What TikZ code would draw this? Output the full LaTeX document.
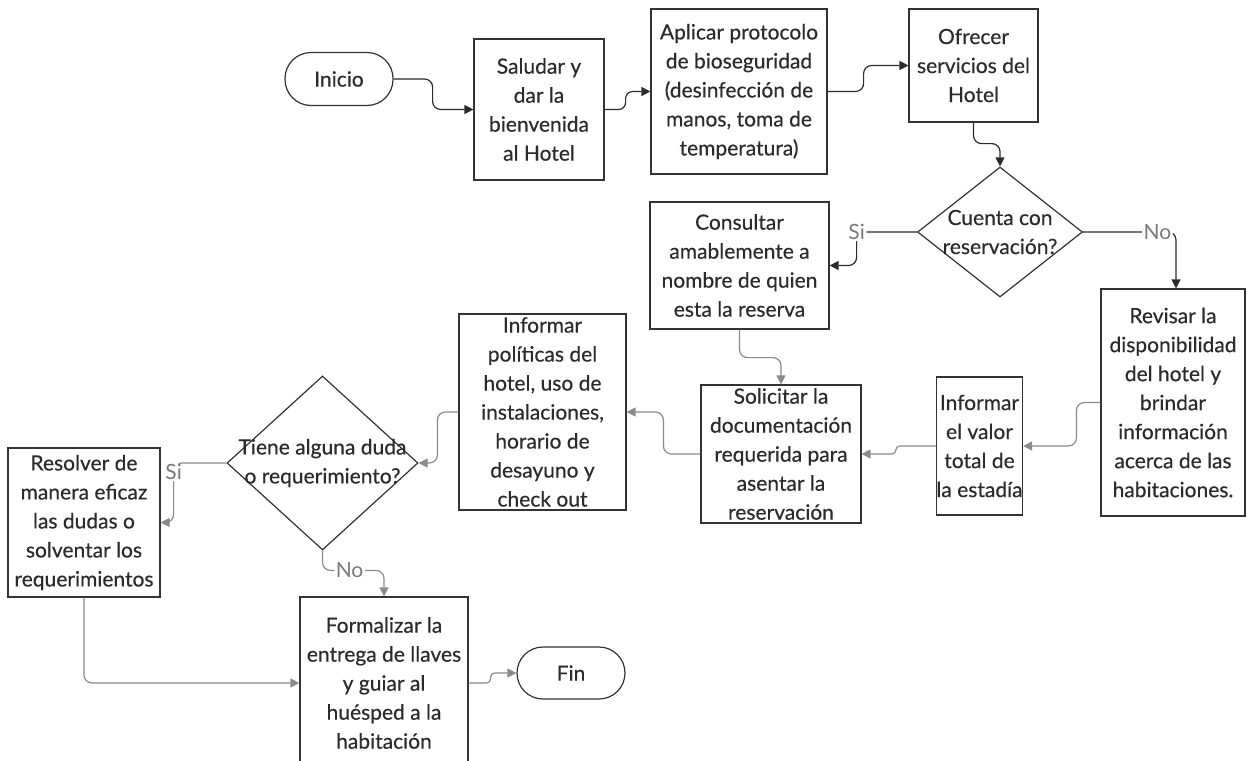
\documentclass[tikz,border=0pt]{standalone}
\usepackage{fontspec}
\setmainfont{Lato}
\newfontfamily\flowfont{Lato}[FakeBold=0.35]
\usetikzlibrary{arrows.meta,shapes.geometric,calc}
\definecolor{ink}{HTML}{2B2B2B}
\definecolor{edge}{HTML}{333333}
\definecolor{flowgray}{HTML}{8A8A8A}
\definecolor{lblgray}{HTML}{7A7A7A}
\tikzset{
  txt/.style={font=\flowfont\fontsize{21}{29}\selectfont, text=ink, align=center, inner sep=0pt},
  procbox/.style={txt, draw=edge, line width=1.2pt, rectangle},
  termbox/.style={txt, draw=edge, line width=1.2pt, rectangle, rounded corners=26pt},
  decbox/.style={draw=edge, line width=1.2pt, diamond, inner sep=0pt},
  darkflow/.style={draw=ink, line width=1.2pt, rounded corners=8pt,
    -{Triangle[length=9pt,width=9pt]}},
  grayflow/.style={draw=flowgray, line width=1.2pt, rounded corners=8pt,
    -{Triangle[length=9pt,width=9pt]}},
  lbl/.style={font=\fontsize{21}{24}\selectfont, text=lblgray, fill=white, inner sep=1.5pt}
}
\begin{document}
\begin{tikzpicture}[x=1pt,y=-1pt]
\useasboundingbox (0,0) rectangle (1252,760);
\clip (0,0) rectangle (1252,760);
\fill[white] (0,0) rectangle (1252,760);

% top row
\node[termbox, minimum width=108pt, minimum height=53pt] (ini) at (339,79) {Inicio};
\node[procbox, minimum width=130pt, minimum height=141pt] (sal) at (539,109.5)
  {Saludar y\\dar la\\bienvenida\\al Hotel};
\node[procbox, minimum width=176pt, minimum height=165pt] (apl) at (739,91.5)
  {Aplicar protocolo\\de bioseguridad\\(desinfección de\\manos, toma de\\temperatura)};
\node[procbox, minimum width=129pt, minimum height=113pt] (ofr) at (973.5,65.5)
  {Ofrecer\\servicios del\\Hotel};

% first decision
\node[decbox, minimum width=165pt, minimum height=130pt] (d1) at (1000,232) {};
\node[txt] at (d1) {Cuenta con\\reservación?};

\node[procbox, minimum width=179pt, minimum height=127pt] (cons) at (739.5,265.5)
  {Consultar\\amablemente a\\nombre de quien\\esta la reserva};
\node[procbox, minimum width=144pt, minimum height=227pt] (rev) at (1173,402.5)
  {Revisar la\\disponibilidad\\del hotel y\\brindar\\información\\acerca de las\\habitaciones.};
\node[procbox, minimum width=84pt, minimum height=138pt] (inf) at (979.5,446)
  {Informar\\el valor\\total de\\la estadía};
\node[procbox, minimum width=160pt, minimum height=138pt] (sol) at (781,454)
  {Solicitar la\\documentación\\requerida para\\asentar la\\reservación};
\node[procbox, minimum width=167pt, minimum height=196pt] (pol) at (542.5,412)
  {Informar\\políticas del\\hotel, uso de\\instalaciones,\\horario de\\desayuno y\\check out};

% second decision
\node[decbox, minimum width=191pt, minimum height=174pt] (d2) at (322.5,463) {};
\node[txt] at (d2) {Tiene alguna duda\\o requerimiento?};

\node[procbox, minimum width=152pt, minimum height=149pt] (res) at (84,522.5)
  {Resolver de\\manera eficaz\\las dudas o\\solventar los\\requerimientos};
\node[procbox, minimum width=168pt, minimum height=172pt] (form) at (384,683)
  {Formalizar la\\entrega de llaves\\y guiar al\\huésped a la\\habitación};
\node[termbox, minimum width=108pt, minimum height=52pt] (fin) at (571,673) {Fin};

% connectors, upper part
\draw[darkflow] (ini.east) -- ++(39,0) |- (sal.west);
\draw[darkflow, rounded corners=7pt] (sal.east) -- ++(21,0) |- (apl.west);
\draw[darkflow] (apl.east) -- ++(36,0) |- (ofr.west);
\draw[darkflow] (ofr.south) -- ++(0,21) -| (d1.north);
\draw[darkflow] (d1.west) -| node[lbl, pos=0.5] {Si} ($(cons.east)+(27,0)$) -- (cons.east);
\draw[darkflow] (d1.east) -| node[lbl, pos=0.4] {No} ($(rev.north)+(3,0)$);

% connectors, lower part
\draw[grayflow] (cons.south) -- ++(0,28) -| (sol.north);
\draw[grayflow] (rev.west) -- ++(-24,0) |- (inf.east);
\draw[grayflow, rounded corners=4pt] (inf.west) -- ++(-40,0) |- (sol.east);
\draw[grayflow] (sol.west) -- ++(-37,0) |- (pol.east);
\draw[grayflow] (pol.west) -- ++(-21,0) |- (d2.east);
\draw[grayflow] (d2.west) -| node[lbl, pos=0.5, yshift=-9pt] {Si} ($(res.east)+(13,0)$) -- (res.east);
\draw[grayflow] (d2.south) |- node[lbl, pos=0.72] {No} ($(form.north)+(0,-26)$) -- (form.north);
\draw[grayflow] (res.south) |- (form.west);
\draw[grayflow, rounded corners=4pt] (form.east) -- ++(22,0) |- (fin.west);
\end{tikzpicture}
\end{document}
